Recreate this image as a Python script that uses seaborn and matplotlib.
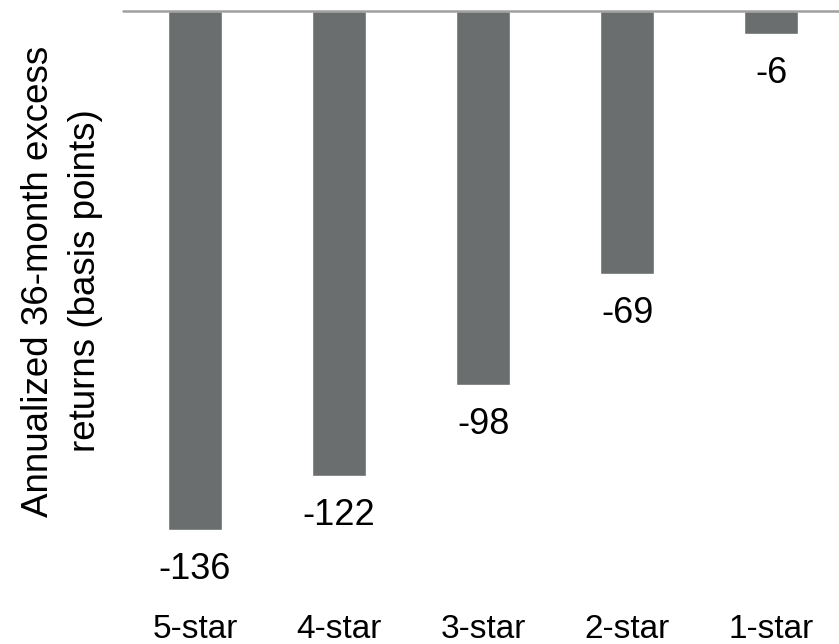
import matplotlib
matplotlib.use("Agg")
import matplotlib.pyplot as plt
import seaborn as sns
import pandas as pd

# data
ratings = ["5-star", "4-star", "3-star", "2-star", "1-star"]
excess_bp = [-136, -122, -98, -69, -6]

df = pd.DataFrame({"rating": ratings, "excess": excess_bp})

sns.set_theme(style="white")
plt.rcParams["font.family"] = ["Liberation Sans", "DejaVu Sans"]

fig = plt.figure(figsize=(8.39, 6.44), dpi=100)
ax = fig.add_axes([123 / 839, 61 / 644, 716 / 839, 572 / 644])

sns.barplot(data=df, x="rating", y="excess", color="#6a6e6e", saturation=1,
            width=0.375, ax=ax)

ax.set_xlim(-0.5, 4.47)
ax.set_ylim(-150, 0)
ax.axhline(0, color="#a0a0a0", lw=1.8, clip_on=False, zorder=5)

for c in ax.containers:
    ax.bar_label(c, labels=[str(v) for v in excess_bp], padding=16,
                 fontsize=26, color="black")

sns.despine(ax=ax, left=True, bottom=True, top=True, right=True)
ax.set_yticks([])
ax.set_xlabel("")
ax.set_ylabel("")
ax.tick_params(axis="x", length=0, pad=22, labelsize=24, labelcolor="black")

fig.text(62 / 839, 1 - 281 / 644, "Annualized 36-month excess\nreturns (basis points)",
         rotation=90, ha="center", va="center", fontsize=26.5, color="black",
         linespacing=1.45, multialignment="center")

fig.savefig("out.png", dpi=100)
plt.close(fig)
